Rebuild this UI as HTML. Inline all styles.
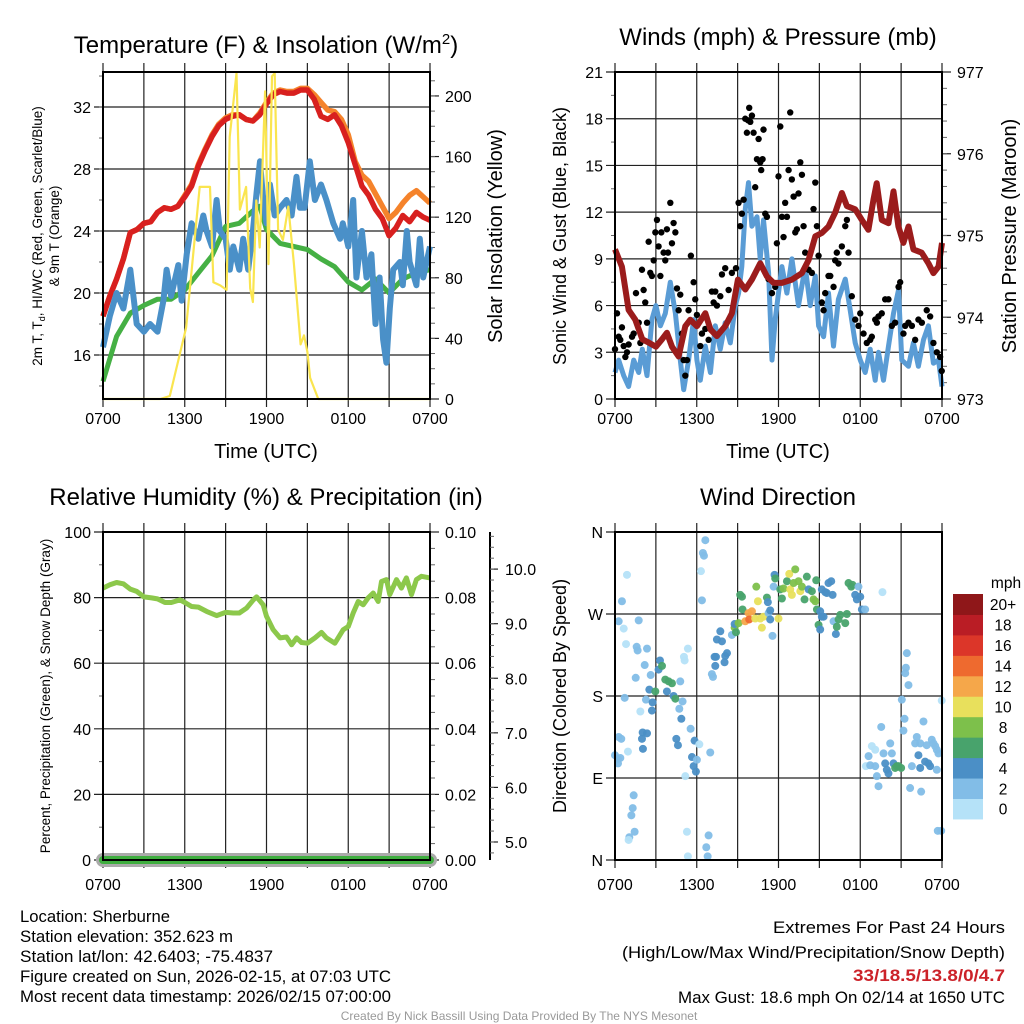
<!DOCTYPE html>
<html><head><meta charset="utf-8">
<style>
html,body{margin:0;padding:0;background:#fff;}
svg{display:block;font-family:"Liberation Sans",sans-serif;}
</style></head>
<body>
<svg id="chart" width="1024" height="1024" viewBox="0 0 1024 1024">
<g id="g1"></g>
<g id="g2"></g>
<g id="g3"></g>
<g id="g4"></g>
<g font-size="24" text-anchor="middle" fill="#000">
<text x="266" y="53">Temperature (F) &amp; Insolation (W/m<tspan dy="-9" font-size="15">2</tspan><tspan dy="9">)</tspan></text>
<text x="778" y="45">Winds (mph) &amp; Pressure (mb)</text>
<text x="266" y="505">Relative Humidity (%) &amp; Precipitation (in)</text>
<text x="778" y="505">Wind Direction</text>
</g>
<g font-size="16.5" fill="#000">
<text x="20" y="922" textLength="150" lengthAdjust="spacingAndGlyphs">Location: Sherburne</text>
<text x="20" y="942" textLength="213" lengthAdjust="spacingAndGlyphs">Station elevation: 352.623 m</text>
<text x="20" y="962" textLength="253" lengthAdjust="spacingAndGlyphs">Station lat/lon: 42.6403; -75.4837</text>
<text x="20" y="982" textLength="371" lengthAdjust="spacingAndGlyphs">Figure created on Sun, 2026-02-15, at 07:03 UTC</text>
<text x="20" y="1002" textLength="371" lengthAdjust="spacingAndGlyphs">Most recent data timestamp: 2026/02/15 07:00:00</text>
</g>
<g font-size="16.5" fill="#000" text-anchor="end">
<text x="1005" y="933" textLength="232" lengthAdjust="spacingAndGlyphs">Extremes For Past 24 Hours</text>
<text x="1005" y="958" textLength="383" lengthAdjust="spacingAndGlyphs">(High/Low/Max Wind/Precipitation/Snow Depth)</text>
<text x="1005" y="981" fill="#cc2229" font-weight="bold" textLength="152" lengthAdjust="spacingAndGlyphs">33/18.5/13.8/0/4.7</text>
<text x="1005" y="1003" textLength="327" lengthAdjust="spacingAndGlyphs">Max Gust: 18.6 mph On 02/14 at 1650 UTC</text>
</g>
<text x="519" y="1020" text-anchor="middle" font-size="12" fill="#999">Created By Nick Bassill Using Data Provided By The NYS Mesonet</text>
</svg>
<script>
// ---------- DATA ----------
const timeLabels = ["0700","1300","1900","0100","0700"];
const redTemp = [18.5,19.8,20.9,22.2,23.9,24.1,24.5,24.6,25.2,25.5,25.4,25.6,26.2,26.9,28.2,29.2,30.1,30.8,31.2,31.4,31.5,31.2,31.1,31.5,32.2,32.8,33,32.9,32.9,33.1,33.1,32.5,31.4,31.2,31.5,30.8,29.7,28.3,26.9,26.3,25.4,24.8,23.7,24.2,25,24.6,25.2,24.9,24.7];
const orangeTemp = [18.5,19.8,20.9,22.2,23.9,24.1,24.5,24.6,25.2,25.5,25.4,25.6,26.3,27.0,28.3,29.3,30.2,30.9,31.3,31.5,31.5,31.2,31.1,31.6,32.3,32.9,33.1,33,33,33.2,33.2,32.8,32.3,31.8,31.7,31.2,30.2,28.5,27.6,27.2,26.4,25.6,24.8,25.2,25.8,26.3,26.6,26.2,25.8];
const greenHours = [0,1,2,3,4,5,6,7,8,9,10,11,11.5,12,13,14,15,16,17,18,19,20,21,22,23,24];
const greenDew = [14.3,17.2,18.7,19.2,19.6,19.6,20.2,21.3,22.4,24.3,24.5,25.3,25.6,24.1,23.2,23,22.8,22.2,21.7,20.7,20.2,20.9,20,20.9,21.3,21.5];
const blueHours = [0,0.5,1,1.5,2,2.47,3,3.45,4,4.43,4.67,5,5.53,5.77,6.14,6.5,7,7.36,7.6,8,8.34,8.58,9,9.31,9.56,10,10.29,10.66,11,11.27,11.52,11.76,12,12.25,12.6,13,13.47,13.84,14.2,14.45,14.8,15.18,15.55,16,16.4,16.9,17.4,17.6,18,18.36,18.6,19,19.34,19.7,20,20.3,20.56,20.8,21.05,21.3,21.8,22,22.3,22.5,23,23.25,23.5,24];
const blueChill = [16.5,18.5,20,19,21.5,18,17.5,18,17.5,19.5,21.5,19.8,21.8,19.5,22.5,24.5,23.5,25,24,23,26,24,23.5,21.5,23,21.5,23.5,21.5,24,26.5,28.5,26,24.5,27,25,25.5,26,25,27.5,25.5,25.5,28.5,26,27,26,24.5,23.5,24.5,23,26,21,24,21,22.5,18,21,17,15.5,19,21.5,22,20.5,24,22,20.5,23.5,21,23];
const solarHours = [0,4.2,4.9,6.1,7.1,7.85,8.1,8.6,9.07,9.3,9.8,10.05,10.5,10.8,11,11.25,11.5,11.9,12.15,12.4,12.6,12.85,13.2,13.6,14,14.5,14.75,15,15.2,15.8,24];
const solarVals = [0,0,2,47,140,140,77,75,72,173,215,125,140,73,64,131,100,203,89,213,215,112,105,127,90,36,42,31,14,0,0];
const pressHours = [0,0.51,1,1.49,2,2.47,3,3.45,3.81,4.18,4.67,5.16,5.53,6.01,6.63,7.01,7.48,8.09,8.58,9.02,9.56,10.05,10.66,11.15,11.64,12.25,12.98,13.72,14.21,14.7,15.18,15.67,16.16,16.65,17.02,17.63,18.12,18.6,18.97,19.21,19.58,20.07,20.44,20.8,21.17,21.54,21.9,22.51,23,23.37,23.74,24];
const pressVals = [974.83,974.62,974.09,973.97,973.73,973.69,973.64,973.73,973.81,973.64,973.52,973.89,973.97,973.89,974.05,973.85,973.77,973.89,974.05,974.46,974.34,974.46,974.66,974.5,974.42,974.42,974.46,974.54,974.7,974.99,975.03,975.11,975.28,975.52,975.36,975.32,975.19,975.07,975.44,975.64,975.19,975.15,975.54,975.11,974.91,975.11,974.83,974.79,974.66,974.54,974.62,974.91];
const windHours = [0,0.27,0.64,1,1.37,1.74,2,2.35,2.71,3,3.33,3.69,4.06,4.43,4.79,5.04,5.4,5.77,6.01,6.26,6.63,7,7.36,7.73,8.09,8.46,8.83,9.07,9.31,9.56,9.8,10.05,10.42,10.66,10.9,11.27,11.52,11.76,12,12.25,12.62,12.98,13.47,13.96,14.33,14.7,14.94,15.31,15.67,16.04,16.4,16.9,17.26,17.63,18,18.36,18.73,19.1,19.34,19.71,20.07,20.44,20.81,21.05,21.54,21.9,22.27,22.64,23,23.37,23.74,24];
const windVals = [1.7,2.5,1.5,0.8,2.5,1.7,3.2,1.5,5.1,6,4.7,5.5,7.5,5.5,2.5,0.6,2.5,5.1,2.5,1.2,3.4,1.7,4.7,3.2,4.9,3.6,6,6.8,8.5,12.2,13.9,11.1,11.7,9,11.5,8.1,2.5,5.1,6.8,8.5,6.8,9,6,8.5,6,7.9,4.7,4,6.8,3.4,6.4,7.7,5.7,3.6,2.5,1.7,3.2,1.2,3,1.2,3.4,5.5,7,2.5,2.1,3.6,2.1,3.8,4.7,2.3,2.5,0.8];
const gustHours = [0,.15,.27,.39,.51,.64,.76,.88,1,1.25,1.37,1.54,1.74,1.86,1.98,2.1,2.22,2.35,2.47,2.59,2.71,2.84,2.96,3.08,3.2,3.33,3.4,3.57,3.69,3.81,3.89,4.06,4.18,4.3,4.43,4.55,4.67,4.79,4.91,5.04,5.16,5.28,5.4,5.57,5.77,5.89,6.01,6.26,6.38,6.63,6.87,7.11,7.24,7.36,7.48,7.73,7.85,8.09,8.34,8.58,8.88,9.07,9.19,9.31,9.44,9.56,9.68,9.76,9.85,9.93,10.05,10.17,10.29,10.42,10.54,10.66,10.73,10.83,10.9,11.03,11.15,11.27,11.52,11.76,11.88,12,12.13,12.25,12.37,12.49,12.62,12.74,12.86,12.98,13.11,13.23,13.35,13.47,13.6,13.72,13.84,13.96,14.21,14.45,14.57,14.7,14.82,14.94,15.18,15.31,15.43,15.67,15.8,16.04,16.16,16.28,16.4,16.65,16.9,17.02,17.14,17.38,17.63,17.87,18,18.24,18.48,18.73,18.85,19.1,19.22,19.34,19.58,19.83,20.07,20.32,20.56,20.81,20.93,21.17,21.3,21.54,21.79,22.03,22.27,22.52,22.88,23.13,23.37,23.62,23.86,23.98];
const gustVals = [3.2,5.5,4.0,3.8,4.6,3.4,2.7,3.0,3.5,4.0,4.2,6.8,4.9,3.6,8.3,7.0,6.2,4.9,10.1,8.1,7.9,8.9,10.7,11.5,9.8,7.9,10.7,9.4,8.9,10.9,9.4,12.6,10.0,11.3,10.7,7.1,5.7,6.7,4.2,2.5,1.5,2.5,5.7,9.2,7.5,6.4,5.4,3.4,4.2,4.5,3.8,6.9,6.2,6.9,6.0,6.6,8.0,8.4,7.0,8.1,8.4,12.6,11.1,11.9,12.8,18.0,17.1,17.9,18.7,17.8,18.2,17.1,13.6,15.4,16.7,15.2,14.7,15.4,17.3,11.9,11.7,7.7,6.8,7.2,10.0,14.3,17.5,11.7,10.4,12.6,11.7,14.7,18.4,14.1,13.0,10.7,10.9,13.2,15.2,14.4,11.1,9.4,8.3,8.1,12.2,13.9,11.1,9.2,6.2,5.7,6.8,7.9,7.9,7.2,8.9,9.4,8.7,9.8,11.1,11.5,9.4,6.6,5.1,4.7,5.5,4.2,3.6,3.8,4.0,5.1,4.9,5.3,5.5,6.4,6.4,4.7,4.9,7.2,7.5,4.2,4.7,4.9,4.7,3.8,5.1,4.9,5.7,5.3,3.6,3.0,2.7,1.8];
const rhHours = [0,0.51,1,1.49,2,2.47,3,3.57,4,4.55,5.01,5.65,6.01,6.5,7,7.6,8.34,9,9.56,10,10.54,11.03,11.27,11.76,12,12.49,13,13.47,13.84,14.21,14.57,15,15.55,16.04,16.4,17.02,17.63,18,18.36,18.73,19.1,19.46,19.83,20.2,20.44,20.81,21.05,21.54,21.9,22.27,22.64,23,23.37,24];
const rhVals = [82.9,83.9,84.6,84.2,82.6,81.9,80.2,79.9,79.6,78.5,78.5,79.3,78.5,77.3,77.1,75.8,74.5,75.5,75.3,75.3,76.8,79.3,80.2,77.8,74.3,70.2,67.7,68,65.6,67.7,66.3,66.1,67.7,69.4,67.7,66.1,70.2,71.2,75.3,78.8,77.8,79.9,81.4,78.8,84.9,85.5,80.9,85.5,82.9,86,80.9,85.5,86.5,86];
const precipVals = [0,0];
const precipHours = [0,24];
const snowHours = [0,24];
const snowVals = [4.7,4.7];
const dirHours = [.88,.51,.27,.64,.81,1.74,1.59,1.66,2.35,2.18,1.52,2.62,.71,1.86,2.27,2.71,2.76,2.52,2.96,3.2,3.3,3.45,3.69,3.94,4.18,3.81,4.3,4.43,4.79,4.96,4.72,4.87,5.55,4.5,4.62,5.84,6.19,5.65,5.77,5.94,6.01,6.99,5.16,5.35,5.06,5.11,6.63,6.45,6.53,6.31,6.38,.27,.46,.95,0,.22,.39,.22,2.03,2.35,1.98,2.05,1.37,1.3,1.2,1.44,1.05,1.0,5.28,5.35,6.87,6.7,6.8,7.11,7.19,7.31,7.41,7.36,8.09,8.22,8.04,7.48,7.73,7.85,8.58,8.78,8.88,8.78,9.07,9.19,9.32,9.36,9.56,9.8,9.85,10.05,10.29,10.49,10.37,10.66,10.78,10.9,11.15,11.27,11.39,11.56,11.22,11.39,11.71,11.76,11.64,12.0,12.13,12.37,12.25,12.62,12.79,12.86,12.98,13.23,13.11,13.47,13.6,13.72,13.91,14.08,14.21,14.45,14.57,14.7,14.77,14.82,15.06,14.94,15.18,15.31,15.06,15.18,15.43,15.67,15.87,15.97,15.55,16.04,16.21,16.28,16.53,16.41,16.9,17.02,17.14,17.34,17.43,17.63,17.87,18.0,17.75,18.12,18.36,19.63,18.85,19.1,18.61,18.41,18.73,19.1,19.22,19.34,19.54,19.71,19.83,19.95,20.07,20.2,20.32,20.44,20.56,20.81,21.0,20.68,21.05,21.25,21.17,21.42,21.35,21.3,21.54,21.66,21.79,22.03,22.15,22.27,22.4,22.64,22.47,22.4,22.76,23.0,23.13,22.88,23.25,23.37,23.5,23.62,23.74,23.62,23.98,23.69,23.94];
const dirDeg = [313,284,262,254,237,263,234,230,232,214,200,203,178,163,176,164,173,187,185,209,219,213,198,196,194,185,180,177,196,174,166,155,144,133,126,131,127,113,103,97,110,118,92,232,223,219,351,337,334,317,285,135,133,119,115,111,112,106,140,139,133,122,71,57,49,31,25,22,31,4,27,14,4,204,201,223,223,213,224,227,217,242,251,240,247,255,250,259,260,291,289,275,262,271,264,273,265,284,300,265,255,267,288,271,264,246,283,274,313,309,300,265,297,298,287,306,314,297,291,319,304,306,295,300,286,311,297,295,286,284,307,275,273,258,267,267,253,297,294,304,306,291,293,262,248,256,269,264,260,270,304,300,302,291,300,289,286,275,275,294,125,121,114,103,104,103,92,81,146,117,106,99,95,128,117,106,101,103,101,103,176,155,142,227,211,205,192,79,103,128,135,115,128,152,75,101,108,106,103,126,132,128,125,121,117,99,175,32,32];
const dirSpeed = [1,3,3,1,1,3,3,3,3,3,3,3,3,1,3,5,5,5,7,5,5,7,7,7,7,5,5,7,3,3,3,5,3,5,5,5,1,5,5,5,3,3,1,1,1,1,3,3,3,1,3,3,3,1,3,3,3,3,5,5,5,5,3,3,3,3,3,1,1,1,3,3,3,3,3,5,5,5,5,5,5,5,5,5,3,9,7,5,9,7,7,7,13,13,15,13,11,11,9,11,11,11,7,3,5,3,5,5,5,7,3,11,7,9,7,7,11,11,11,9,9,9,11,9,7,7,5,7,9,9,7,7,5,7,5,5,5,5,5,5,5,5,5,3,5,7,7,7,7,7,7,7,7,5,3,5,5,5,3,1,1,1,3,1,3,3,3,3,3,3,5,5,5,3,3,5,7,7,7,7,3,3,3,3,3,3,3,3,3,3,3,5,3,3,3,5,5,5,5,3,3,3,3,3,3,3,1,3,3];
const speedBinLabels = ["0","2","4","6","8","10","12","14","16","18","20+"];
const speedBinColors = ["#b5e2f8","#82bde7","#4b8fc6","#48a36c","#7dc04b","#e8e05c","#f5a74a","#ee6a2f","#dc3629","#ba1d25","#8f1719"];

// ---------- HELPERS ----------
const NS = "http://www.w3.org/2000/svg";
function mk(parent, tag, attrs){ const e=document.createElementNS(NS,tag); for(const k in attrs) e.setAttribute(k,attrs[k]); parent.appendChild(e); return e; }
function lin(d0,d1,r0,r1){ return v => r0 + (v-d0)*(r1-r0)/(d1-d0); }
function pathOf(xs, ys, sx, sy){ return xs.map((h,i)=>(i?"L":"M")+sx(h).toFixed(1)+","+sy(ys[i]).toFixed(1)).join(""); }
const L=103, R=430, L2=615, R2=942;
function frame(g, x0, x1, y0, y1, yTickVals, yTickLab, sy, minorVals, xLabY, nm){
  const sx = lin(0,24,x0,x1);
  for(let h=0; h<=24; h+=3){
    const gl = mk(g,"line",{x1:sx(h),x2:sx(h),y1:y0-9,y2:y1+8,stroke:"#222","stroke-width":1.2});
    
    
  }
  timeLabels.forEach((t,i)=>{
    const tx = mk(g,"text",{x:sx(i*6),y:xLabY,"text-anchor":"middle","font-size":16});
    tx.textContent=t;
    
    
  });
  yTickVals.forEach((v,i)=>{
    const y=sy(v);
    const gl = mk(g,"line",{x1:x0-9,x2:x1,y1:y,y2:y,stroke:"#222","stroke-width":1.2});
    
    
    const tx = mk(g,"text",{x:x0-12,y:y+6,"text-anchor":"end","font-size":16});
    tx.textContent=yTickLab[i];
    
    
  });
  (minorVals||[]).forEach(v=>{ mk(g,"line",{x1:x0-4,x2:x0,y1:sy(v),y2:sy(v),stroke:"#666","stroke-width":1}); });
  return sx;
}
function rightAxis(g, x, vals, labs, sy, minors, nm){
  vals.forEach((v,i)=>{
    mk(g,"line",{x1:x,x2:x+9,y1:sy(v),y2:sy(v),stroke:"#222","stroke-width":1.2});
    const tx=mk(g,"text",{x:x+15,y:sy(v)+6,"font-size":16}); tx.textContent=labs[i];
    
    
  });
  minors.forEach(v=>{ mk(g,"line",{x1:x,x2:x+5,y1:sy(v),y2:sy(v),stroke:"#666","stroke-width":1}); });
}
function border(g,x0,x1,y0,y1){ mk(g,"rect",{x:x0,y:y0,width:x1-x0,height:y1-y0,fill:"none",stroke:"#000","stroke-width":2}); }
function rng(a,b,s){ const r=[]; for(let v=a; v<=b+1e-9; v+=s) r.push(+v.toFixed(4)); return r; }
function vlabel(g,x,y,txt,fs,nm){ const t=mk(g,"text",{x:0,y:0,"text-anchor":"middle","font-size":fs,transform:`translate(${x},${y}) rotate(-90)`}); t.textContent=txt;   return t; }

// ---------- PANEL 1 ----------
(function(){
  const g=document.getElementById("g1");
  const T=72,B=399;
  const sy=lin(13.16,34.26,B,T), ss=lin(0,215.8,B,T);
  const sx=frame(g,L,R,T,B,[16,20,24,28,32],["16","20","24","28","32"],sy,rng(14,34,2),424,"temp");
  rightAxis(g,R,[0,40,80,120,160,200],["0","40","80","120","160","200"],ss,rng(10,210,10),"solar-axis");
  const stepX = redTemp.map((_,i)=>i*0.5);
  let p=mk(g,"path",{d:pathOf(stepX,orangeTemp,sx,sy),fill:"none",stroke:"#f5832b","stroke-width":5.5,"stroke-linejoin":"round"});
   
  p=mk(g,"path",{d:pathOf(stepX,redTemp,sx,sy),fill:"none",stroke:"#d8201f","stroke-width":5.5,"stroke-linejoin":"round"});
   
  p=mk(g,"path",{d:pathOf(greenHours,greenDew,sx,sy),fill:"none",stroke:"#45b044","stroke-width":5,"stroke-linejoin":"round"});
   
  p=mk(g,"path",{d:pathOf(blueHours,blueChill,sx,sy),fill:"none",stroke:"#4a90c8","stroke-width":6,"stroke-linejoin":"round"});
   
  p=mk(g,"path",{d:pathOf(solarHours,solarVals,sx,ss),fill:"none",stroke:"#fae54f","stroke-width":2.2,"stroke-linejoin":"round"});
   
  border(g,L,R,T,B);
  const t=mk(g,"text",{x:0,y:0,"text-anchor":"middle","font-size":13.5,transform:"translate(45,236) rotate(-90)"});
   
  const a=mk(t,"tspan",{x:0,dy:-3}); a.textContent="2m T, T"; const s=mk(t,"tspan",{"font-size":9,dy:3}); s.textContent="d"; const b=mk(t,"tspan",{dy:-3}); b.textContent=", HI/WC (Red, Green, Scarlet/Blue)";
  const c=mk(t,"tspan",{x:0,dy:17}); c.textContent="& 9m T (Orange)";
  vlabel(g,502,236,"Solar Insolation (Yellow)",20,"solar-y-axis-title");
  const xt=mk(g,"text",{x:266,y:458,"text-anchor":"middle","font-size":20}); xt.textContent="Time (UTC)";
   
})();

// ---------- PANEL 2 ----------
(function(){
  const g=document.getElementById("g2");
  const T=72,B=399;
  const sy=lin(0,21,B,T), sp=lin(973,977,B,T);
  const sx=frame(g,L2,R2,T,B,[0,3,6,9,12,15,18,21],["0","3","6","9","12","15","18","21"],sy,rng(1.5,19.5,3),424,"wind");
  rightAxis(g,R2,[973,974,975,976,977],["973","974","975","976","977"],sp,rng(973.2,976.8,0.2),"pressure-axis");
  let p=mk(g,"path",{d:pathOf(windHours,windVals,sx,sy),fill:"none",stroke:"#5a9cd5","stroke-width":5,"stroke-linejoin":"round"});
   
  gustHours.forEach((h,i)=>{
    const c=mk(g,"circle",{cx:sx(h),cy:sy(gustVals[i]),r:3.2,fill:"#000"});
    
    
  });
  p=mk(g,"path",{d:pathOf(pressHours,pressVals,sx,sp),fill:"none",stroke:"#9b1c1c","stroke-width":6,"stroke-linejoin":"round"});
   
  border(g,L2,R2,T,B);
  vlabel(g,566,236,"Sonic Wind & Gust (Blue, Black)",18,"wind-y-axis-title");
  vlabel(g,1016,236,"Station Pressure (Maroon)",20,"pressure-y-axis-title");
  const xt=mk(g,"text",{x:778,y:458,"text-anchor":"middle","font-size":20}); xt.textContent="Time (UTC)";
   
})();

// ---------- PANEL 3 ----------
(function(){
  const g=document.getElementById("g3");
  const T=532,B=860;
  const sy=lin(0,100,B,T), spr=lin(0,0.1,B,T), ssn=lin(4.67,10.68,B,T);
  const sx=frame(g,L,R,T,B,[0,20,40,60,80,100],["0","20","40","60","80","100"],sy,rng(10,90,20),890,"rh");
  rightAxis(g,R,[0,0.02,0.04,0.06,0.08,0.1],["0.00","0.02","0.04","0.06","0.08","0.10"],spr,rng(0.005,0.095,0.005),"precip-axis");
  mk(g,"line",{x1:490,x2:490,y1:T,y2:B,stroke:"#000","stroke-width":2});
  [5,6,7,8,9,10].forEach(v=>{
    mk(g,"line",{x1:490,x2:498,y1:ssn(v),y2:ssn(v),stroke:"#222","stroke-width":1.2});
    const t=mk(g,"text",{x:505,y:ssn(v)+6,"font-size":16}); t.textContent=v.toFixed(1);
     
  });
  rng(4.8,10.6,0.2).forEach(v=>mk(g,"line",{x1:490,x2:494,y1:ssn(v),y2:ssn(v),stroke:"#666","stroke-width":1}));
  let p=mk(g,"path",{d:pathOf(snowHours,snowVals.map(()=>0),sx,sy),fill:"none",stroke:"#aaa","stroke-width":14,"stroke-linecap":"round"});
   
  p=mk(g,"path",{d:pathOf(precipHours,precipVals,sx,spr),fill:"none",stroke:"#3fae3f","stroke-width":8,"stroke-linecap":"round"});
   
  p=mk(g,"path",{d:pathOf(rhHours,rhVals,sx,sy),fill:"none",stroke:"#8cc84b","stroke-width":5,"stroke-linejoin":"round"});
   
  border(g,L,R,T,B);
  vlabel(g,50,696,"Percent, Precipitation (Green), & Snow Depth (Gray)",13.5,"humidity-y-axis-title");
})();

// ---------- PANEL 4 ----------
(function(){
  const g=document.getElementById("g4");
  const T=532,B=860;
  const sy=lin(0,360,B,T);
  const sx=frame(g,L2,R2,T,B,[0,90,180,270,360],["N","E","S","W","N"],sy,[],890,"direction");
  dirHours.forEach((h,i)=>{
    const bin=Math.min(10,Math.floor(dirSpeed[i]/2));
    const c=mk(g,"circle",{cx:sx(h),cy:sy(dirDeg[i]),r:4,fill:speedBinColors[bin],opacity:0.95});
    
    
  });
  border(g,L2,R2,T,B);
  vlabel(g,566,696,"Direction (Colored By Speed)",18,"direction-y-axis-title");
  const cb=mk(g,"g",{});
   
  const top=594, bh=20.45;
  speedBinColors.forEach((col,i)=>{
    const y=top+(10-i)*bh;
    const r=mk(cb,"rect",{x:953,y:y,width:30,height:bh+0.5,fill:col});
     
    const t=mk(cb,"text",{x:1003,y:y+bh/2+6,"text-anchor":"middle","font-size":15.5}); t.textContent=speedBinLabels[i];
     
  });
  const u=mk(cb,"text",{x:1006,y:588,"text-anchor":"middle","font-size":15.5}); u.textContent="mph";
   
})();
</script>
</body></html>
